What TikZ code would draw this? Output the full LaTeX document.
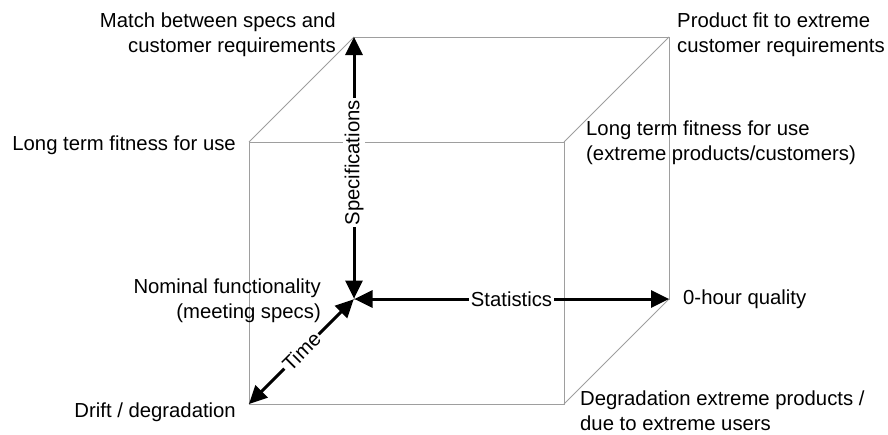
\documentclass[tikz,border=0pt]{standalone}
\usepackage{fontspec}
\setmainfont{Liberation Sans}
\usetikzlibrary{arrows.meta}
\definecolor{cubeedge}{RGB}{158,158,158}
\begin{document}
\begin{tikzpicture}[x=1pt,y=-1pt,
  edge/.style={draw=cubeedge, line width=0.9pt},
  axis/.style={line width=3pt, shorten <=0.5pt,
    {Triangle[length=18pt,width=17pt]}-{Triangle[length=18pt,width=17pt]}},
  lbl/.style={font=\fontsize{20.3}{25}\selectfont, inner sep=0pt},
  axislbl/.style={font=\fontsize{20.3}{25}\selectfont, fill=white, inner sep=2pt}
]
\useasboundingbox (0,0) rectangle (888,434);

% cube corners: front face and back face
\coordinate (ftl) at (249,142);
\coordinate (ftr) at (564,142);
\coordinate (fbl) at (249,404);
\coordinate (fbr) at (564,404);
\coordinate (btl) at (354,37);
\coordinate (btr) at (669,37);
\coordinate (bbl) at (354,299);
\coordinate (bbr) at (669,299);

% cube edges
\draw[edge] (ftl) -- (ftr) -- (fbr) -- (fbl) -- cycle;
\draw[edge] (btl) -- (btr) -- (bbr) -- (bbl) -- cycle;
\draw[edge] (ftl) -- (btl);
\draw[edge] (ftr) -- (btr);
\draw[edge] (fbr) -- (bbr);
\draw[edge] (fbl) -- (bbl);

% the three axes from the common origin
\draw[axis] (bbl) -- node[axislbl, pos=0.52, rotate=90] (specs) {Specifications} (btl);
\draw[axis] (bbl) -- node[axislbl, midway] (stats) {Statistics} (bbr);
\draw[axis] (bbl) -- node[axislbl, midway, rotate=45] (time) {Time} (fbl);

% corner labels
\node[lbl, anchor=east, align=right] (match) at (336,35) {Match between specs and\\customer requirements};
\node[lbl, anchor=west, align=left] (prodfit) at (677,35) {Product fit to extreme\\customer requirements};
\node[lbl, anchor=east] (ltfit) at (236,145) {Long term fitness for use};
\node[lbl, anchor=west, align=left] (ltfitx) at (586,143) {Long term fitness for use\\(extreme products/customers)};
\node[lbl, anchor=east, align=right] (nominal) at (321,301) {Nominal functionality\\(meeting specs)};
\node[lbl, anchor=west] (zerohour) at (683,299) {0-hour quality};
\node[lbl, anchor=east] (drift) at (236,412) {Drift / degradation};
\node[lbl, anchor=west, align=left] (degx) at (580,411) {Degradation extreme products /\\due to extreme users};
\end{tikzpicture}
\end{document}
